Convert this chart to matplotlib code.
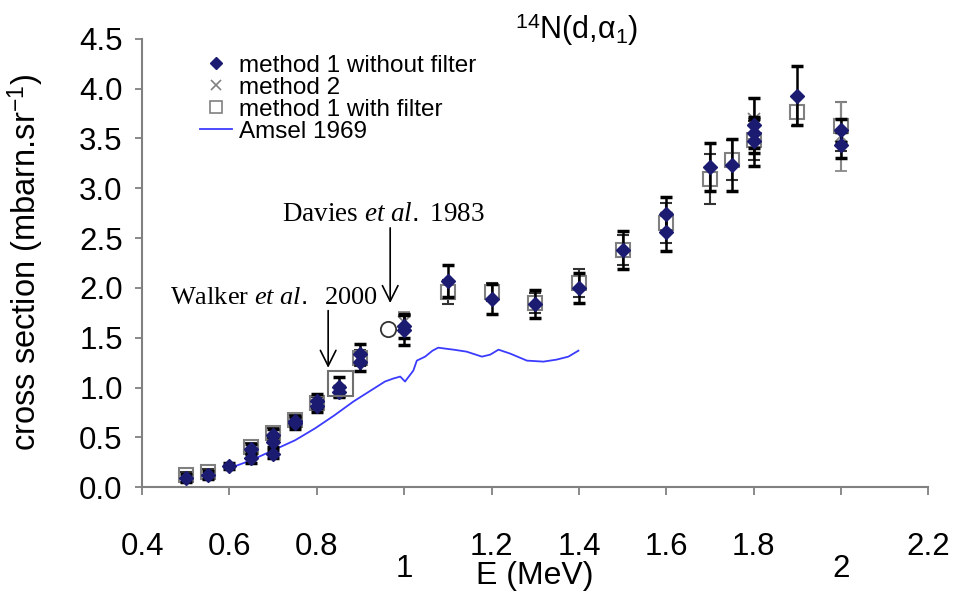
import numpy as np
import matplotlib
matplotlib.use("Agg")
import matplotlib.pyplot as plt
from matplotlib.lines import Line2D

plt.rcParams['font.family'] = ['Liberation Sans', 'DejaVu Sans']
plt.rcParams['mathtext.fontset'] = 'custom'
plt.rcParams['mathtext.rm'] = 'Liberation Sans'
plt.rcParams['mathtext.it'] = 'Liberation Serif:italic'

# method 1 without filter (diamonds)
m1_E = [0.5, 0.55, 0.6, 0.65, 0.65, 0.7, 0.7, 0.7, 0.75, 0.75, 0.8, 0.8, 0.85, 0.85,
        0.9, 0.9, 1.0, 1.0, 1.1, 1.2, 1.3, 1.4, 1.5, 1.6, 1.6, 1.7, 1.75,
        1.8, 1.8, 1.8, 1.9, 2.0, 2.0]
m1_sig = [0.09, 0.12, 0.21, 0.38, 0.29, 0.52, 0.45, 0.33, 0.64, 0.66, 0.86, 0.81, 1.01, 0.96,
          1.34, 1.26, 1.58, 1.62, 2.07, 1.89, 1.84, 2.00, 2.38, 2.74, 2.56, 3.21, 3.23,
          3.63, 3.55, 3.47, 3.93, 3.58, 3.43]
m1_err = [0.04, 0.04, 0.03, 0.05, 0.05, 0.06, 0.05, 0.04, 0.06, 0.05, 0.07, 0.06, 0.10, 0.06,
          0.10, 0.09, 0.15, 0.12, 0.16, 0.15, 0.14, 0.15, 0.19, 0.17, 0.19, 0.24, 0.26,
          0.28, 0.15, 0.25, 0.30, 0.12, 0.13]

# method 1 with filter (open squares)
mf_E = [0.5, 0.55, 0.65, 0.7, 0.75, 0.8, 0.9, 1.1, 1.2, 1.3, 1.4, 1.5, 1.6, 1.7, 1.75, 1.8, 1.9, 2.0]
mf_sig = [0.12, 0.15, 0.40, 0.54, 0.67, 0.84, 1.30, 1.96, 1.96, 1.85, 2.05, 2.38, 2.65, 3.09, 3.28, 3.48, 3.77, 3.62]
mf_err = [0.03, 0.03, 0.04, 0.05, 0.05, 0.06, 0.08, 0.12, 0.09, 0.10, 0.14, 0.15, 0.20, 0.25, 0.20, 0.20, 0.15, 0.25]

# method 2 (crosses)
m2_E = [1.0, 1.8, 2.0]
m2_sig = [1.66, 3.70, 3.52]
m2_err = [0.10, 0.21, 0.35]

# Amsel 1969
am_E = [0.60, 0.65, 0.70, 0.75, 0.796, 0.84, 0.884, 0.92, 0.956, 0.975, 0.991, 1.002,
        1.021, 1.029, 1.048, 1.065, 1.078, 1.095, 1.113, 1.143, 1.178, 1.197, 1.216,
        1.243, 1.281, 1.319, 1.349, 1.376, 1.399]
am_sig = [0.19, 0.27, 0.37, 0.47, 0.59, 0.72, 0.86, 0.96, 1.06, 1.09, 1.11, 1.06,
          1.17, 1.27, 1.31, 1.37, 1.40, 1.39, 1.38, 1.36, 1.31, 1.33, 1.38,
          1.34, 1.27, 1.26, 1.28, 1.31, 1.37]

walker_E, walker_sig = 0.852, 1.05
davies_E, davies_sig = 0.963, 1.59

xticks = [0.4, 0.6, 0.8, 1.0, 1.2, 1.4, 1.6, 1.8, 2.0, 2.2]
xticklabels = ['0.4', '0.6', '0.8', '1', '1.2', '1.4', '1.6', '1.8', '2', '2.2']
yticks = [0.0, 0.5, 1.0, 1.5, 2.0, 2.5, 3.0, 3.5, 4.0, 4.5]

navy = '#1b1b72'
fig = plt.figure(figsize=(9.6, 5.97), dpi=100)
ax = fig.add_axes([0.148, 0.184, 0.819, 0.751])

ax.plot(am_E, am_sig, color='#3b3bff', lw=1.3, zorder=1)
ax.errorbar(mf_E, mf_sig, yerr=mf_err, fmt='s', ms=10, mfc='none', mec='#808080', mew=1.5,
            ecolor='#333333', elinewidth=1.5, capsize=4, capthick=2, zorder=2)
ax.errorbar(m2_E, m2_sig, yerr=m2_err, fmt='x', ms=8, color='#808080', mew=1.3,
            ecolor='#888888', elinewidth=1.5, capsize=4, capthick=2, zorder=2)
ax.errorbar(m1_E, m1_sig, yerr=m1_err, fmt='D', ms=7.5, mfc=navy, mec=navy,
            ecolor='black', elinewidth=1.8, capsize=4, capthick=2.5, zorder=3)
ax.plot([walker_E], [walker_sig], 's', ms=18, mfc='none', mec='#707070', mew=1.5, zorder=4)
ax.plot([davies_E], [davies_sig], 'o', ms=11, mfc='none', mec='#333333', mew=1.3, zorder=4)

ax.annotate('', xy=(0.826, 1.17), xytext=(0.826, 1.80),
            arrowprops=dict(arrowstyle='->', lw=1.2, color='black', mutation_scale=28))
ax.annotate('', xy=(0.968, 1.82), xytext=(0.968, 2.63),
            arrowprops=dict(arrowstyle='->', lw=1.2, color='black', mutation_scale=28))
ax.text(0.464, 1.90, r'Walker $et\ al.$  2000', family='Liberation Serif', fontsize=19, va='center')
ax.text(0.72, 2.74, r'Davies $et\ al.$ 1983', family='Liberation Serif', fontsize=19.5, va='center')

ax.text(0.553, 1.02, r'$^{14}$N(d,α$_1$)', transform=ax.transAxes, fontsize=22, ha='center', va='center')

ax.set_xlim(0.4, 2.2)
ax.set_ylim(0, 4.5)
ax.set_xticks(xticks)
ax.set_xticklabels(xticklabels)
ax.set_yticks(yticks)
ax.set_yticklabels([f'{v:.1f}' for v in yticks])
for s in ['top', 'right']:
    ax.spines[s].set_visible(False)
for s in ['left', 'bottom']:
    ax.spines[s].set_color('#808080')
    ax.spines[s].set_linewidth(1.5)
ax.tick_params(axis='both', colors='#808080', labelcolor='black', labelsize=22.5, width=1.3)
ax.tick_params(axis='x', length=6, pad=26)
ax.tick_params(axis='y', length=5, pad=9)
for i, t in enumerate(ax.xaxis.get_major_ticks()):
    if xticklabels[i] in ('1', '2'):
        t.set_pad(42)

ax.set_xlabel('E (MeV)', fontsize=23)
ax.xaxis.set_label_coords(0.5, -0.165)
ax.set_ylabel('cross section (mbarn.sr$^{-1}$)', fontsize=23.5)
ax.yaxis.set_label_coords(-0.122, 0.5)

handles = [
    Line2D([], [], marker='D', ls='none', ms=6.5, mfc=navy, mec=navy),
    Line2D([], [], marker='x', ls='none', ms=7, color='#808080', mew=1.2),
    Line2D([], [], marker='s', ls='none', ms=8, mfc='none', mec='#808080', mew=1.2),
    Line2D([], [], color='#3b3bff', lw=1.3),
]
labels = ['method 1 without filter', 'method 2', 'method 1 with filter', 'Amsel 1969']
ax.legend(handles, labels, loc='upper left', bbox_to_anchor=(0.074, 0.965), frameon=False,
          fontsize=17.5, handlelength=1.3, handletextpad=0.3, labelspacing=0.0,
          borderpad=0, borderaxespad=0)

fig.savefig('out.png', dpi=100)
